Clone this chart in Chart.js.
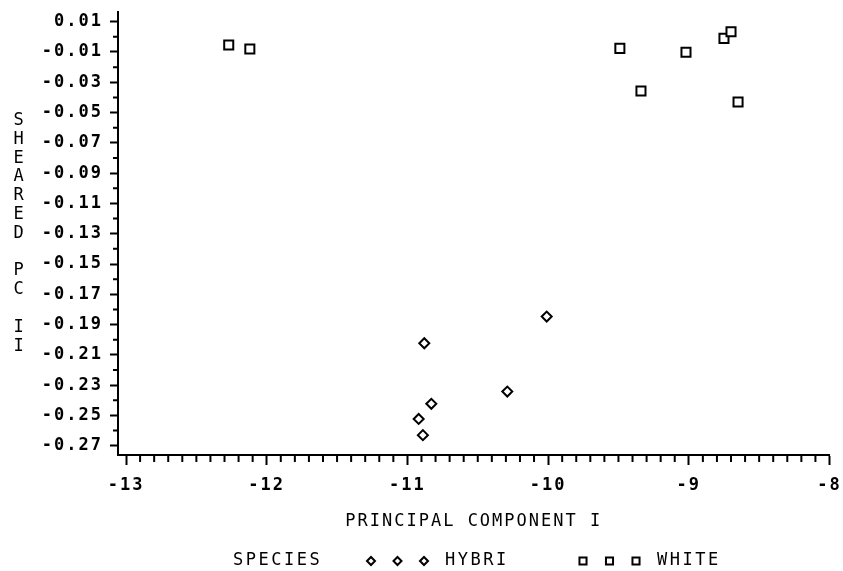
<!DOCTYPE html>
<html>
<head>
<meta charset="utf-8">
<script src="https://cdn.jsdelivr.net/npm/chart.js@4/dist/chart.umd.min.js"></script>
<style>
  html, body { margin: 0; padding: 0; background: #fff; }
  #pca { display: block; }
</style>
</head>
<body>
<canvas id="pca" width="843" height="571"></canvas>
<script>
// PC scores per specimen
const hybriX = [-10.01, -10.88, -10.29, -10.83, -10.92, -10.89];
const hybriY = [-0.1847, -0.2023, -0.2342, -0.2423, -0.2523, -0.2630];
const whiteX = [-12.27, -12.12, -9.49, -9.02, -8.75, -8.70, -9.34, -8.65];
const whiteY = [-0.0054, -0.0080, -0.0076, -0.0102, -0.0010, 0.0034, -0.0357, -0.0430];

const speciesTitle = 'SPECIES';
const speciesNames = ['HYBRI', 'WHITE'];

const xTicks = [-13, -12, -11, -10, -9, -8];
const yTicks = [0.01, -0.01, -0.03, -0.05, -0.07, -0.09, -0.11, -0.13,
                -0.15, -0.17, -0.19, -0.21, -0.23, -0.25, -0.27];
const xMinorStep = 0.1;
const yMinorStep = 0.01;

const xTitle = 'PRINCIPAL COMPONENT I';
const yTitle = 'SHEARED PC II';

const FONT = "'DejaVu Sans Mono', monospace";
const SPACING = '2px';

function toPoints(xs, ys) {
  return xs.map((x, i) => ({ x: x, y: ys[i] }));
}

// plotter look: spaced lettering, minor ticks, stacked y title, legend row
const plotter = {
  id: 'plotter',
  beforeUpdate(chart) { chart.ctx.letterSpacing = SPACING; },
  beforeDraw(chart) { chart.ctx.letterSpacing = SPACING; },
  afterDraw(chart) {
    const ctx = chart.ctx;
    const xs = chart.scales.x, ys = chart.scales.y;
    const area = chart.chartArea;
    ctx.save();
    ctx.strokeStyle = '#000';
    ctx.lineWidth = 2;

    // minor ticks
    ctx.beginPath();
    const nx = Math.round((xs.max - xTicks[0]) / xMinorStep);
    for (let i = 0; i <= nx; i++) {
      if (i % 10 === 0) continue;
      const px = xs.getPixelForValue(xTicks[0] + i * xMinorStep);
      ctx.moveTo(px, area.bottom);
      ctx.lineTo(px, area.bottom + 7);
    }
    const ny = Math.round((yTicks[0] - yTicks[yTicks.length - 1]) / yMinorStep);
    for (let i = 0; i <= ny; i++) {
      if (i % 2 === 0) continue;
      const py = ys.getPixelForValue(yTicks[0] - i * yMinorStep);
      ctx.moveTo(area.left, py);
      ctx.lineTo(area.left - 5, py);
    }
    ctx.stroke();

    // y title, one letter per line
    ctx.letterSpacing = '0px';
    ctx.fillStyle = '#000';
    ctx.font = '17px ' + FONT;
    ctx.textAlign = 'center';
    ctx.textBaseline = 'middle';
    const step = 18.8;
    const letters = yTitle.split('');
    const midY = (area.top + area.bottom) / 2;
    letters.forEach((ch, i) => {
      ctx.fillText(ch, 18.5, midY + (i - (letters.length - 1) / 2) * step);
    });

    // legend row
    const legendY = 561;
    ctx.letterSpacing = '2.5px';
    ctx.textAlign = 'left';
    ctx.fillText(speciesTitle, 233, legendY);
    const groupStart = [371, 583];
    chart.data.datasets.forEach((ds, d) => {
      const style = {
        pointStyle: ds.pointStyle,
        radius: ds.pointStyle === 'rect' ? 5 : 4,
        rotation: 0,
        borderWidth: 2
      };
      ctx.fillStyle = '#fff';
      ctx.strokeStyle = '#000';
      ctx.lineWidth = 2;
      for (let k = 0; k < 3; k++) {
        Chart.helpers.drawPoint(ctx, style, groupStart[d] + k * 26.5, legendY);
      }
      ctx.fillStyle = '#000';
      ctx.fillText(ds.label, groupStart[d] + 2 * 26.5 + 21, legendY);
    });
    ctx.restore();
  }
};

new Chart(document.getElementById('pca'), {
  type: 'scatter',
  data: {
    datasets: [{
      label: speciesNames[0],
      data: toPoints(hybriX, hybriY),
      pointStyle: 'rectRot',
      pointRadius: 5,
      borderColor: '#000',
      backgroundColor: '#fff',
      borderWidth: 2
    }, {
      label: speciesNames[1],
      data: toPoints(whiteX, whiteY),
      pointStyle: 'rect',
      pointRadius: 6.4,
      borderColor: '#000',
      backgroundColor: '#fff',
      borderWidth: 2
    }]
  },
  options: {
    responsive: false,
    animation: false,
    layout: { padding: { left: 0, right: 13.5, top: 11.7, bottom: 39 } },
    plugins: {
      legend: { display: false },
      tooltip: { enabled: false }
    },
    scales: {
      x: {
        type: 'linear',
        min: -13.057,
        max: -8,
        afterBuildTicks: s => { s.ticks = xTicks.map(v => ({ value: v })); },
        afterFit: s => {
          s.height = 77;
          s.paddingLeft = 0; s.paddingRight = 0;
        },
        grid: {
          drawOnChartArea: false,
          tickLength: 10,
          tickWidth: 2,
          tickColor: '#000'
        },
        border: { color: '#000', width: 2 },
        ticks: {
          autoSkip: false,
          maxRotation: 0,
          minRotation: 0,
          padding: 10,
          color: '#000',
          font: { family: FONT, size: 17, weight: 'bold' },
          callback: v => String(v)
        },
        title: {
          display: true,
          text: xTitle,
          color: '#000',
          padding: 0,
          font: { family: FONT, size: 17 }
        }
      },
      y: {
        type: 'linear',
        min: -0.2761,
        max: 0.0166,
        afterBuildTicks: s => { s.ticks = yTicks.map(v => ({ value: v })); },
        afterFit: s => {
          s.width = 118;
          s.paddingTop = 0; s.paddingBottom = 0;
        },
        grid: {
          drawOnChartArea: false,
          tickLength: 8,
          tickWidth: 2,
          tickColor: '#000'
        },
        border: { color: '#000', width: 2 },
        ticks: {
          autoSkip: false,
          padding: 7,
          color: '#000',
          font: { family: FONT, size: 17, weight: 'bold' },
          callback: v => v.toFixed(2)
        }
      }
    }
  },
  plugins: [plotter]
});
</script>
</body>
</html>
